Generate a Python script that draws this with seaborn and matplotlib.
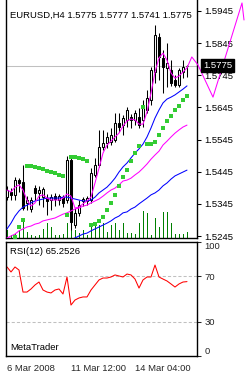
import numpy as np
import pandas as pd
import matplotlib
matplotlib.use("Agg")
import matplotlib.pyplot as plt
import seaborn as sns

sns.set_style("white")
plt.rcParams['font.family'] = ['Liberation Sans', 'DejaVu Sans']

# ---------------- data (H4 bars, 6 Mar 2008 20:00 ... 14 Mar 2008) ----------------
symbol_title = "EURUSD,H4 1.5775 1.5777 1.5741 1.5775"
rsi_title = "RSI(12) 65.2526"
brand = "MetaTrader"
last_price = 1.5775

opens = [1.5366, 1.5382, 1.5373, 1.5419, 1.5413, 1.5348, 1.5329, 1.5394, 1.5379, 1.5366,
         1.5363, 1.5357, 1.5369, 1.5357, 1.5366, 1.5357, 1.5481, 1.5279, 1.5317, 1.5354,
         1.5354, 1.5357, 1.5435, 1.5466, 1.5522, 1.5534, 1.5537, 1.5544, 1.5596, 1.5590,
         1.5606, 1.5615, 1.5606, 1.5615, 1.5606, 1.5637, 1.5668, 1.5755, 1.5864, 1.5799,
         1.5768, 1.5761, 1.5730, 1.5715, 1.5755, 1.5775]
highs = [1.5401, 1.5394, 1.5429, 1.5425, 1.5466, 1.5369, 1.5366, 1.5404, 1.5401, 1.5397,
         1.5376, 1.5376, 1.5379, 1.5376, 1.5373, 1.5494, 1.5491, 1.5332, 1.5357, 1.5366,
         1.5369, 1.5456, 1.5488, 1.5575, 1.5575, 1.5568, 1.5581, 1.5628, 1.5628, 1.5621,
         1.5646, 1.5624, 1.5637, 1.5643, 1.5668, 1.5699, 1.5771, 1.5901, 1.5876, 1.5823,
         1.5845, 1.5792, 1.5746, 1.5768, 1.5792, 1.5777]
lows = [1.5357, 1.5357, 1.5357, 1.5382, 1.5326, 1.5326, 1.5320, 1.5357, 1.5341, 1.5335,
        1.5310, 1.5326, 1.5338, 1.5341, 1.5335, 1.5348, 1.5264, 1.5270, 1.5307, 1.5338,
        1.5341, 1.5348, 1.5429, 1.5460, 1.5512, 1.5519, 1.5528, 1.5537, 1.5568, 1.5559,
        1.5584, 1.5581, 1.5590, 1.5581, 1.5584, 1.5628, 1.5652, 1.5721, 1.5730, 1.5690,
        1.5708, 1.5712, 1.5708, 1.5708, 1.5736, 1.5741]
closes = [1.5388, 1.5373, 1.5419, 1.5410, 1.5332, 1.5357, 1.5357, 1.5379, 1.5388, 1.5391,
          1.5354, 1.5366, 1.5360, 1.5369, 1.5348, 1.5481, 1.5289, 1.5317, 1.5341, 1.5360,
          1.5363, 1.5441, 1.5466, 1.5522, 1.5534, 1.5553, 1.5559, 1.5596, 1.5584, 1.5612,
          1.5637, 1.5606, 1.5628, 1.5590, 1.5646, 1.5674, 1.5761, 1.5870, 1.5802, 1.5771,
          1.5783, 1.5721, 1.5715, 1.5761, 1.5771, 1.5775]
volumes = [1200, 450, 600, 1200, 3000, 900, 450, 300, 450, 1350,
           2250, 1650, 450, 450, 600, 2250, 3450, 1200, 750, 1200,
           450, 2250, 2250, 1950, 2250, 900, 1950, 2250, 1200, 2250,
           750, 750, 600, 2250, 4050, 3750, 450, 3000, 1650, 3900,
           3900, 2250, 600, 600, 600, 900]
nan = np.nan
sar = [nan, nan, 1.5242, 1.5273, 1.5295, 1.5463, 1.5463, 1.5460, 1.5456, 1.5453,
       1.5447, 1.5444, 1.5441, 1.5435, 1.5432, 1.5310, 1.5491, 1.5491, 1.5488, 1.5484,
       1.5478, 1.5279, 1.5282, 1.5292, 1.5304, 1.5326, 1.5348, 1.5373, 1.5401, 1.5429,
       1.5450, 1.5478, 1.5503, 1.5525, 1.5646, 1.5531, 1.5531, 1.5537, 1.5559, 1.5581,
       1.5603, 1.5618, 1.5637, 1.5649, 1.5668, 1.5680]
ma_fast = [1.5388, 1.5382, 1.5397, 1.5404, 1.5388, 1.5357, 1.5338, 1.5348, 1.5369, 1.5373,
           1.5363, 1.5357, 1.5357, 1.5357, 1.5363, 1.5376, 1.5369, 1.5332, 1.5335, 1.5345,
           1.5354, 1.5366, 1.5410, 1.5456, 1.5503, 1.5528, 1.5540, 1.5553, 1.5565, 1.5587,
           1.5603, 1.5609, 1.5606, 1.5593, 1.5593, 1.5631, 1.5690, 1.5755, 1.5799, 1.5814,
           1.5792, 1.5752, 1.5736, 1.5743, 1.5755, 1.5768]
ma_fast_tail_idx = [45, 46.2, 47.75, 51.5, 58.75, 59.25]
ma_fast_tail = [1.5768, 1.5802, 1.5777, 1.5677, 1.5970, 1.5917]
ma_blue = [1.5267, 1.5285, 1.5307, 1.5323, 1.5335, 1.5341, 1.5348, 1.5354, 1.5357, 1.5360,
           1.5363, 1.5363, 1.5363, 1.5363, 1.5366, 1.5366, 1.5363, 1.5360, 1.5357, 1.5354,
           1.5354, 1.5357, 1.5366, 1.5379, 1.5388, 1.5397, 1.5410, 1.5425, 1.5444, 1.5460,
           1.5472, 1.5488, 1.5503, 1.5516, 1.5531, 1.5553, 1.5581, 1.5612, 1.5637, 1.5659,
           1.5671, 1.5677, 1.5684, 1.5693, 1.5702, 1.5712]
ma_magenta = [1.5239, 1.5245, 1.5251, 1.5261, 1.5267, 1.5273, 1.5276, 1.5282, 1.5285, 1.5292,
              1.5295, 1.5298, 1.5301, 1.5307, 1.5313, 1.5317, 1.5323, 1.5329, 1.5332, 1.5338,
              1.5341, 1.5348, 1.5354, 1.5360, 1.5369, 1.5379, 1.5388, 1.5394, 1.5404, 1.5416,
              1.5419, 1.5425, 1.5435, 1.5444, 1.5456, 1.5469, 1.5484, 1.5497, 1.5509, 1.5528,
              1.5540, 1.5553, 1.5565, 1.5575, 1.5584, 1.5590]
ma_blue_slow = [nan] * 15 + [
              1.5223, 1.5233, 1.5239, 1.5245, 1.5251,
              1.5254, 1.5261, 1.5267, 1.5273, 1.5279, 1.5285, 1.5292, 1.5301, 1.5307, 1.5317,
              1.5320, 1.5329, 1.5335, 1.5345, 1.5354, 1.5363, 1.5373, 1.5379, 1.5388, 1.5401,
              1.5410, 1.5422, 1.5432, 1.5438, 1.5444, 1.5450]
rsi = [78.1, 73.7, 78.1, 75.4, 56.1, 56.1, 58.8, 62.3, 64.9, 57.9,
       56.1, 55.3, 57.9, 58.8, 54.4, 69.3, 44.7, 49.1, 50.9, 51.8,
       51.8, 57.9, 62.3, 66.7, 68.4, 68.4, 69.3, 71.1, 70.2, 69.3,
       71.9, 71.1, 67.5, 59.6, 66.7, 69.3, 69.3, 79.8, 69.3, 67.5,
       65.8, 63.2, 60.5, 63.2, 64.9, 65.25]
rsi_levels = [30, 70]
price_ticks = [1.5245, 1.5345, 1.5445, 1.5545, 1.5645, 1.5745, 1.5845, 1.5945]
rsi_ticks = [0, 30, 70, 100]
time_tick_idx = [0, 16, 32]
time_tick_labels = ["6 Mar 2008", "11 Mar 12:00", "14 Mar 04:00"]

df = pd.DataFrame({"i": np.arange(len(opens)), "open": opens, "high": highs, "low": lows,
                   "close": closes, "vol": volumes, "sar": sar, "ma_fast": ma_fast,
                   "ma_blue": ma_blue, "ma_mag": ma_magenta, "ma_blue_slow": ma_blue_slow,
                   "rsi": rsi})

# ---------------- figure layout ----------------
W, H = 249, 376
fig = plt.figure(figsize=(W / 100, H / 100), dpi=100, facecolor="white")

def rect(l, t, r, b):
    return [l / W, 1 - b / H, (r - l) / W, (b - t) / H]

ax = fig.add_axes(rect(6, 0, 197, 238))
axv = ax.twinx()
axr = fig.add_axes(rect(6, 242, 197, 356))

FS = 6.8
LW = 0.75

# volume (behind)
axv.vlines(df["i"], 0, df["vol"], color="#008000", lw=0.72, antialiased=False)
axv.set_ylim(0, 35700)
axv.set_yticks([])
for s in axv.spines.values():
    s.set_visible(False)
ax.set_zorder(axv.get_zorder() + 1)
ax.patch.set_visible(False)

# current price line
ax.axhline(last_price, color="#c0c0c0", lw=LW, zorder=1)

# candles
ax.vlines(df["i"], df["low"], df["high"], color="black", lw=LW, zorder=2)
bull = df["close"] >= df["open"]
bodies_lo = np.minimum(df["open"], df["close"])
bodies_h = np.abs(df["close"] - df["open"])
ax.bar(df["i"][bull], bodies_h[bull], bottom=bodies_lo[bull], width=0.6,
       color="white", edgecolor="black", linewidth=LW, zorder=3)
ax.bar(df["i"][~bull], bodies_h[~bull], bottom=bodies_lo[~bull], width=0.6,
       color="black", edgecolor="black", linewidth=LW, zorder=3)

# moving averages
sns.lineplot(data=df, x="i", y="ma_blue_slow", ax=ax, color="#0000ff", lw=LW, sort=False, zorder=4)
sns.lineplot(data=df, x="i", y="ma_mag", ax=ax, color="#ff00ff", lw=LW, sort=False, zorder=4)
sns.lineplot(data=df, x="i", y="ma_blue", ax=ax, color="#0000ff", lw=LW, sort=False, zorder=4)
sns.lineplot(data=df, x="i", y="ma_fast", ax=ax, color="#ff00ff", lw=LW, sort=False, zorder=5)
tail_line, = ax.plot(ma_fast_tail_idx, ma_fast_tail, color="#ff00ff", lw=LW, zorder=5)
tail_line.set_clip_on(False)

# parabolic SAR
sns.scatterplot(data=df, x="i", y="sar", ax=ax, color="#33cc33", marker="s", s=6,
                linewidth=0, zorder=6)

ax.set_xlim(-0.25, 47.5)
ax.set_ylim(1.52388, 1.59792)
ax.set_xlabel("")
ax.set_ylabel("")
ax.set_xticks([])
ax.yaxis.tick_right()
ax.set_yticks(price_ticks)
ax.set_yticklabels([f"{p:.4f}" for p in price_ticks])
ax.tick_params(axis="y", direction="out", length=3, width=LW, pad=2.5, labelsize=FS,
               colors="black")
for name, s in ax.spines.items():
    s.set_color("black")
    s.set_linewidth(1.0)
ax.spines["top"].set_visible(False)

ax.text(4 / 191, 1 - 15 / 238, symbol_title, transform=ax.transAxes, fontsize=FS,
        ha="left", va="center", color="black", zorder=10)

# current price tag
ax.annotate(f"{last_price:.4f}", xy=(1.0, last_price), xycoords=("axes fraction", "data"),
            xytext=(6, 0), textcoords="offset pixels", ha="left", va="center",
            fontsize=FS, color="white", annotation_clip=False, zorder=20,
            bbox=dict(boxstyle="square,pad=0.2", fc="black", ec="black"))

# ---------------- RSI panel ----------------
sns.lineplot(data=df, x="i", y="rsi", ax=axr, color="#ff0000", lw=LW, sort=False)
for lv in rsi_levels:
    axr.axhline(lv, color="#c0c0c0", lw=LW, ls=(0, (3, 2)), zorder=0)
axr.set_xlim(-0.25, 47.5)
axr.set_ylim(0, 100)
axr.set_xlabel("")
axr.set_ylabel("")
axr.yaxis.tick_right()
axr.set_yticks(rsi_ticks)
axr.set_yticklabels([str(t) for t in rsi_ticks])
labs = axr.get_yticklabels()
labs[0].set_va("bottom")
labs[-1].set_va("top")
axr.tick_params(axis="y", direction="out", length=3, width=LW, pad=2.5, labelsize=FS)
axr.set_xticks(time_tick_idx)
axr.set_xticklabels(time_tick_labels, ha="left")
axr.tick_params(axis="x", direction="out", length=4, width=LW, pad=1.5, labelsize=FS)
for s in axr.spines.values():
    s.set_color("black")
    s.set_linewidth(1.0)

axr.text(4 / 191, 1 - 10 / 114, rsi_title, transform=axr.transAxes, fontsize=FS,
         ha="left", va="center", color="black")
axr.text(4 / 191, 1 - 106 / 114, brand, transform=axr.transAxes, fontsize=FS,
         ha="left", va="center", color="black")

fig.savefig("out.png", dpi=100, facecolor="white")
